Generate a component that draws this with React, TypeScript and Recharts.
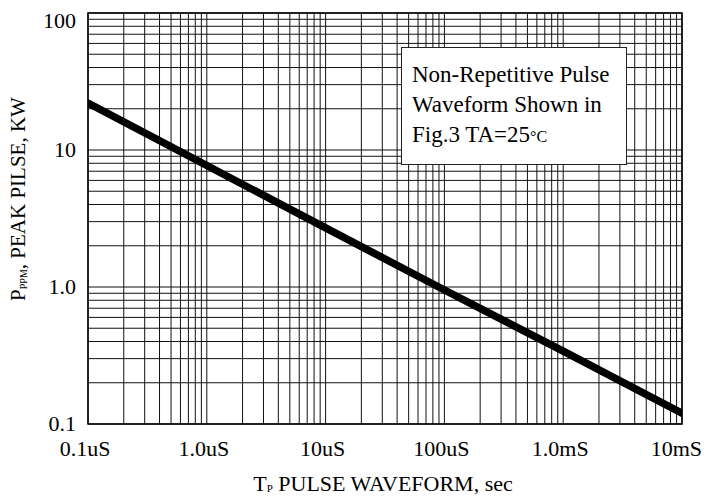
import React from 'react';
import { LineChart, Line, XAxis, YAxis, CartesianGrid, ReferenceArea, Label } from 'recharts';

// pulse width (s) vs peak pulse power (kW), read at each decade
const PULSE_TIME = [1e-7, 1e-6, 1e-5, 1e-4, 1e-3, 1e-2];
const PEAK_POWER_KW = [22, 7.7, 2.7, 0.95, 0.34, 0.12];

const X_DECADES = [1e-7, 1e-6, 1e-5, 1e-4, 1e-3, 1e-2];
const X_LABELS = ['0.1uS', '1.0uS', '10uS', '100uS', '1.0mS', '10mS'];
const Y_DECADES = [0.1, 1, 10, 100];
const Y_LABELS = ['0.1', '1.0', '10', '100'];

const MINOR_STEPS = [1, 2, 3, 4, 5, 6, 7, 8, 9];

const SERIF = '"Liberation Serif", "Times New Roman", serif';

// grid lines at 1..9 x each decade
const logGrid = (decades: number[]) =>
  decades.flatMap((d, i) => (i === decades.length - 1 ? [d] : MINOR_STEPS.map(m => m * d)));

const X_GRID = logGrid(X_DECADES);
const Y_GRID = logGrid(Y_DECADES);

const data = PULSE_TIME.map((t, i) => ({ t, kw: PEAK_POWER_KW[i] }));

const decadeIndex = (decades: number[], v: number) =>
  decades.findIndex(d => Math.abs(Math.log10(d) - Math.log10(v)) < 1e-6);

function XTick(props: any) {
  const { x, payload } = props;
  const i = decadeIndex(X_DECADES, payload.value);
  if (i < 0) return null;
  const last = i === X_DECADES.length - 1;
  return (
    <text x={last ? x + 20 : x - 3} y={456} textAnchor={last ? 'end' : 'middle'}
      fontFamily={SERIF} fontSize={22} fill="#000">
      {X_LABELS[i]}
    </text>
  );
}

function YTick(props: any) {
  const { y, payload } = props;
  const i = decadeIndex(Y_DECADES, payload.value);
  if (i < 0) return null;
  const top = i === Y_DECADES.length - 1;
  return (
    <text x={76} y={top ? y + 15 : y + 7} textAnchor="end"
      fontFamily={SERIF} fontSize={22} fill="#000">
      {Y_LABELS[i]}
    </text>
  );
}

const YTitle = () => (
  <text transform="rotate(-90)" x={-199} y={25} textAnchor="middle"
    fontFamily={SERIF} fontSize={21} fill="#000">
    P<tspan fontSize={10} dy={2}>PPM</tspan><tspan dy={-2}>, PEAK PILSE, KW</tspan>
  </text>
);

const XTitle = () => (
  <text x={383} y={491} textAnchor="middle" fontFamily={SERIF} fontSize={22} fill="#000">
    T<tspan fontSize={11} dy={1}>P</tspan><tspan dy={-1}> PULSE WAVEFORM, sec</tspan>
  </text>
);

export default function App() {
  return (
    <div style={{ position: 'absolute', left: 0, top: 0, width: 706, height: 500, background: '#fff' }}>
      <LineChart width={706} height={500} data={data}
        margin={{ top: 13, right: 24, bottom: 0, left: 0 }}>
        <CartesianGrid stroke="#111" strokeWidth={1} />
        <XAxis dataKey="t" type="number" scale="log" domain={[1e-7, 1e-2]} allowDataOverflow
          ticks={X_GRID} interval={0} tick={<XTick />} tickLine={false} axisLine={false} height={76}>
          <Label content={<XTitle />} />
        </XAxis>
        <YAxis type="number" scale="log" domain={[0.1, 100]} allowDataOverflow
          ticks={Y_GRID} interval={0} tick={<YTick />} tickLine={false} axisLine={false} width={88}>
          <Label content={<YTitle />} />
        </YAxis>
        <ReferenceArea x1={1e-7} x2={1e-2} y1={0.1} y2={100} fill="none" fillOpacity={0}
          stroke="#000" strokeWidth={1.5} ifOverflow="visible" />
        <Line dataKey="kw" stroke="#000" strokeWidth={7.5} strokeLinecap="round"
          dot={false} activeDot={false} isAnimationActive={false} />
      </LineChart>
      <div style={{
        position: 'absolute', left: 401, top: 47, width: 226, height: 118,
        background: '#fff', border: '1px solid #222', boxSizing: 'border-box',
        fontFamily: SERIF, fontSize: 23, lineHeight: '30px', color: '#000',
        padding: '12px 0 0 10px', whiteSpace: 'nowrap',
      }}>
        <div>Non-Repetitive Pulse</div>
        <div>Waveform Shown in</div>
        <div>Fig.3 TA=25<span style={{ fontSize: 16 }}>°C</span></div>
      </div>
    </div>
  );
}
